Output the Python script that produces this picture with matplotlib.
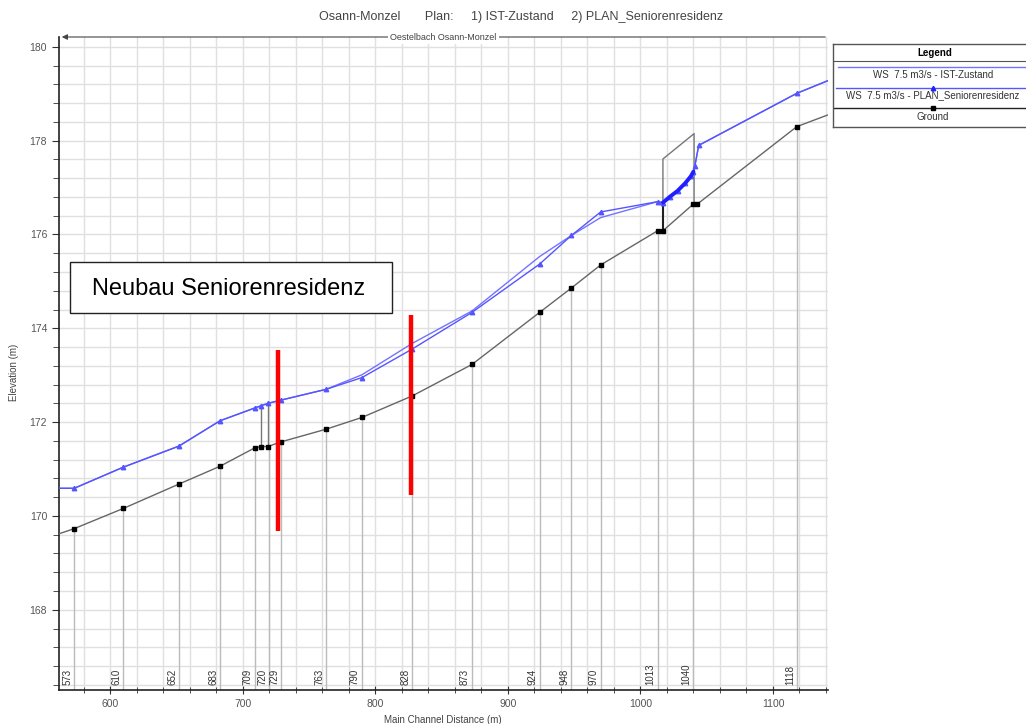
import numpy as np
import matplotlib
matplotlib.use('Agg')
import matplotlib.pyplot as plt
from matplotlib.patches import Rectangle
from matplotlib.ticker import MultipleLocator
from matplotlib.transforms import blended_transform_factory

plt.rcParams['font.family'] = ['Liberation Sans', 'DejaVu Sans']

# river stations (labels at the bottom)
stations = [573, 610, 652, 683, 709, 720, 729, 763, 790, 828, 873, 924, 948, 970, 1013, 1040, 1118]

# ground profile
ground_x = [561.5, 573, 610, 652, 683, 709, 714, 719, 729, 763, 790, 828, 873, 924, 948, 970,
            1013, 1017, 1040, 1043, 1118, 1141.5]
ground_z = [169.62, 169.73, 170.16, 170.68, 171.06, 171.45, 171.48, 171.48, 171.58, 171.85, 172.10,
            172.56, 173.23, 174.34, 174.86, 175.35, 176.08, 176.08, 176.65, 176.65, 178.30, 178.55]

# water surface, 7.5 m3/s
ws_x = [561.5, 573, 610, 652, 683, 709, 714, 719, 729, 763, 790, 828, 873, 924, 948, 970,
        1013, 1017, 1022, 1028, 1034, 1038, 1040, 1041, 1044, 1118, 1141.5]
ist_z = [170.59, 170.59, 171.04, 171.49, 172.03, 172.30, 172.35, 172.40, 172.47, 172.70, 173.01,
         173.68, 174.37, 175.53, 175.98, 176.36, 176.70, 176.68, 176.80, 176.93, 177.10, 177.24,
         177.34, 177.45, 177.90, 179.01, 179.28]
plan_z = [170.59, 170.59, 171.04, 171.49, 172.03, 172.30, 172.35, 172.40, 172.47, 172.70, 172.95,
          173.56, 174.34, 175.37, 175.98, 176.48, 176.70, 176.68, 176.80, 176.93, 177.10, 177.24,
          177.34, 177.45, 177.90, 179.01, 179.28]

# bridge outline (deck) near 1013-1040
bridge_x = [1017, 1017, 1040.5, 1040.5]
bridge_z = [176.08, 177.61, 178.15, 176.65]

# culvert at 720
culvert_x = [714, 719]
culvert_bot = [171.48, 171.48]
culvert_top = [172.35, 172.40]

# red markings of the new building
red_x = [727, 827]
red_bot = [169.68, 170.45]
red_top = [173.54, 174.29]

W, H = 1026, 724
fig = plt.figure(figsize=(W / 100, H / 100), dpi=100)
ax = fig.add_axes([59 / W, 1 - 690 / H, (828 - 59) / W, (690 - 37) / H])

ax.set_xlim(561.5, 1141.5)
ax.set_ylim(166.29, 180.21)

ax.xaxis.set_major_locator(MultipleLocator(100))
ax.xaxis.set_minor_locator(MultipleLocator(20))
ax.yaxis.set_major_locator(MultipleLocator(2))
ax.yaxis.set_minor_locator(MultipleLocator(0.4))
ax.grid(True, which='both', color='#e0e0e0', lw=1.0, zorder=0)
ax.set_axisbelow(True)

for s in ['top', 'right']:
    ax.spines[s].set_visible(False)
for s in ['left', 'bottom']:
    ax.spines[s].set_color('#222222')
    ax.spines[s].set_linewidth(1.2)

ax.tick_params(axis='both', which='both', colors='#333333', labelcolor='#555555', labelsize=7.5)
ax.tick_params(axis='x', which='major', direction='inout', length=6)
ax.tick_params(axis='x', which='minor', direction='inout', length=4)
ax.tick_params(axis='y', which='major', direction='out', length=5)
ax.tick_params(axis='y', which='minor', direction='out', length=4)

# station lines from bottom up to the ground
ybot = ax.get_ylim()[0]
st_ground = np.interp(stations, ground_x, ground_z)
ax.vlines(stations, ybot, st_ground, color='#bbbbbb', lw=1.0, zorder=1)
tr = blended_transform_factory(ax.transData, ax.transAxes)
for s in stations:
    ax.text(s - 1.5, 0.008, str(s), transform=tr, rotation=90, ha='right', va='bottom',
            fontsize=7, color='#333333')

# bridge + culvert
ax.plot(bridge_x, bridge_z, color='#777777', lw=1.0, zorder=2)
ax.vlines([bridge_x[0]], bridge_z[0], 176.72, color='#222222', lw=1.5, zorder=2)
ax.vlines(culvert_x, culvert_bot, culvert_top, color='#777777', lw=1.0, zorder=2)

# profiles
ax.plot(ws_x, ist_z, color='#7373ff', lw=1.0, zorder=3)
ax.plot(ws_x, plan_z, color='#5555ff', lw=1.0, marker='^', ms=3.2, markevery=slice(1, -1), zorder=4)
ax.plot(ws_x[17:23], plan_z[17:23], color='#2020ff', lw=2.8, solid_capstyle='round', zorder=4)
ax.plot(ground_x, ground_z, color='#666666', lw=1.0, marker='s', ms=3.2, mfc='black', mec='black',
        markevery=slice(1, -1), zorder=4)

# red markings
ax.vlines(red_x, red_bot, red_top, color='#ff0000', lw=3.2, zorder=6)

# reach line on top
ax.annotate('', xy=(0.0, 1.0), xytext=(1.0, 1.0), xycoords='axes fraction',
            arrowprops=dict(arrowstyle='-|>', color='#444444', lw=0.8, mutation_scale=8),
            annotation_clip=False)
ax.text(0.5, 1.0, 'Oestelbach Osann-Monzel', transform=ax.transAxes, ha='center', va='center',
        fontsize=6.5, color='#444444', bbox=dict(fc='white', ec='none', pad=1.5), zorder=7)

fig.text(521 / W, 1 - 17 / H,
         'Osann-Monzel       Plan:     1) IST-Zustand     2) PLAN_Seniorenresidenz',
         ha='center', va='center', fontsize=9, color='#444444')
fig.text(443 / W, 1 - 720 / H, 'Main Channel Distance (m)', ha='center', va='center',
         fontsize=7, color='#444444')
fig.text(14 / W, 1 - 372 / H, 'Elevation (m)', ha='center', va='center', rotation=90,
         fontsize=7, color='#444444')

# annotation box
fig.patches.append(Rectangle((70 / W, 1 - 313 / H), 322 / W, 51 / H, transform=fig.transFigure,
                             fc='white', ec='#222222', lw=1.0, zorder=8))
fig.text(229 / W, 1 - 295 / H, 'Neubau Seniorenresidenz', ha='center', va='baseline',
         fontsize=17, color='black', zorder=9)

# legend panel
lg = fig.add_axes([833 / W, 1 - 127 / H, 200 / W, 83 / H])
lg.set_xlim(0, 200)
lg.set_ylim(83, 0)
lg.set_xticks([])
lg.set_yticks([])
for s in lg.spines.values():
    s.set_color('#555555')
    s.set_linewidth(1.0)
lg.text(102, 9, 'Legend', ha='center', va='center', fontsize=7, fontweight='bold')
lg.plot([0, 200], [16.5, 16.5], color='#555555', lw=0.8)
lg.plot([5, 200], [23, 23], color='#7373ff', lw=1.0)
lg.text(100, 31, 'WS  7.5 m3/s - IST-Zustand', ha='center', va='center', fontsize=7, color='#333333')
lg.plot([3, 200], [43.5, 43.5], color='#5555ff', lw=1.0)
lg.plot([100], [43.5], marker='^', color='#2020ff', ms=3.2)
lg.text(100, 51, 'WS  7.5 m3/s - PLAN_Seniorenresidenz', ha='center', va='center', fontsize=7,
        color='#333333')
lg.plot([0, 200], [63.5, 63.5], color='#222222', lw=1.0)
lg.plot([100], [63.5], marker='s', color='black', ms=3.2)
lg.text(100, 72.5, 'Ground', ha='center', va='center', fontsize=7, color='#333333')

fig.savefig('out.png', dpi=100)
